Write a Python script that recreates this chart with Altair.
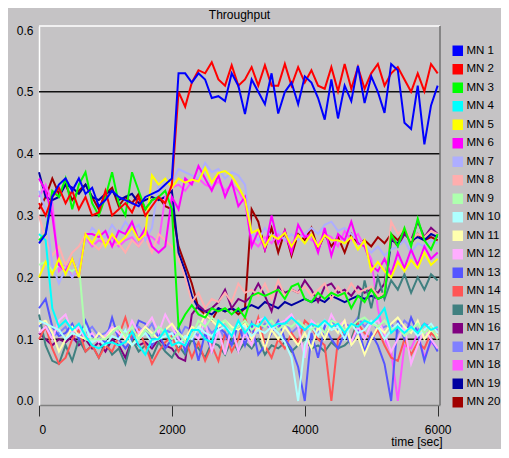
import altair as alt
import pandas as pd

times = list(range(0, 6001, 100))
names = [f"MN {i}" for i in range(1, 21)]
colors = ["#0000ff", "#ff0000", "#00ff00", "#00ffff", "#ffff00", "#ff00ff",
          "#aeaeff", "#ffaeae", "#aeffae", "#aeffff", "#ffffae", "#ffaeff",
          "#5555ff", "#ff5555", "#408080", "#800080", "#8080ff", "#ff55ff",
          "#0000a0", "#a00000"]

mn1 = [0.255, 0.27, 0.33, 0.35, 0.36, 0.34, 0.36, 0.335, 0.345, 0.315,
       0.325, 0.34, 0.33, 0.325, 0.32, 0.315, 0.33, 0.335, 0.34, 0.35,
       0.36, 0.53, 0.53, 0.515, 0.53, 0.52, 0.49, 0.493, 0.485, 0.53,
       0.51, 0.464, 0.52, 0.50, 0.48, 0.53, 0.465, 0.50, 0.515, 0.48,
       0.525, 0.515, 0.49, 0.455, 0.52, 0.457, 0.51, 0.485, 0.542, 0.482,
       0.525, 0.50, 0.466, 0.545, 0.535, 0.45, 0.44, 0.51, 0.415, 0.478,
       0.51]
mn2 = [0.32, 0.30, 0.33, 0.345, 0.32, 0.34, 0.31, 0.33, 0.30, 0.305,
       0.34, 0.30, 0.31, 0.32, 0.305, 0.33, 0.30, 0.315, 0.33, 0.32,
       0.35, 0.50, 0.476, 0.515, 0.535, 0.53, 0.548, 0.52, 0.51, 0.543,
       0.51, 0.52, 0.54, 0.51, 0.543, 0.51, 0.51, 0.545, 0.51, 0.54,
       0.515, 0.535, 0.51, 0.505, 0.54, 0.501, 0.545, 0.505, 0.54, 0.505,
       0.53, 0.545, 0.51, 0.53, 0.54, 0.52, 0.50, 0.53, 0.501, 0.545,
       0.53]
mn3 = [0.26, 0.27, 0.34, 0.33, 0.36, 0.31, 0.35, 0.37, 0.32, 0.30,
       0.33, 0.37, 0.32, 0.30, 0.37, 0.34, 0.31, 0.325, 0.33, 0.34,
       0.31, 0.12, 0.14, 0.155, 0.14, 0.135, 0.15, 0.145, 0.15, 0.14,
       0.15, 0.135, 0.17, 0.175, 0.17, 0.175, 0.18, 0.165, 0.185, 0.19,
       0.165, 0.16, 0.175, 0.165, 0.175, 0.17, 0.175, 0.15, 0.17, 0.16,
       0.18, 0.165, 0.17, 0.27, 0.25, 0.28, 0.25, 0.295, 0.26, 0.245,
       0.27]
mn4 = [0.27, 0.26, 0.15, 0.12, 0.13, 0.115, 0.125, 0.105, 0.09, 0.085,
       0.093, 0.095, 0.09, 0.095, 0.112, 0.09, 0.075, 0.10, 0.10, 0.115,
       0.09, 0.095, 0.09, 0.115, 0.115, 0.10, 0.095, 0.13, 0.12, 0.105,
       0.13, 0.11, 0.125, 0.12, 0.135, 0.12, 0.125, 0.125, 0.135, 0.125,
       0.115, 0.125, 0.12, 0.13, 0.12, 0.125, 0.11, 0.125, 0.12, 0.13,
       0.125, 0.135, 0.15, 0.11, 0.12, 0.11, 0.12, 0.11, 0.125, 0.115,
       0.12]
mn5 = [0.20, 0.225, 0.205, 0.23, 0.205, 0.23, 0.20, 0.27, 0.255, 0.275,
       0.25, 0.27, 0.255, 0.265, 0.28, 0.26, 0.27, 0.365, 0.35, 0.36,
       0.345, 0.36, 0.353, 0.358, 0.355, 0.377, 0.353, 0.369, 0.372, 0.364,
       0.347, 0.326, 0.272, 0.277, 0.25, 0.268, 0.262, 0.272, 0.25, 0.268,
       0.255, 0.27, 0.25, 0.268, 0.26, 0.26, 0.255, 0.265, 0.245, 0.26,
       0.21, 0.225, 0.21, 0.20, 0.225, 0.21, 0.228, 0.215, 0.24, 0.22,
       0.23]
mn6 = [0.36, 0.34, 0.30, 0.22, 0.21, 0.23, 0.20, 0.27, 0.27, 0.265,
       0.275, 0.25, 0.275, 0.27, 0.29, 0.26, 0.28, 0.25, 0.24, 0.25,
       0.33, 0.31, 0.36, 0.35, 0.38, 0.36, 0.34, 0.365, 0.33, 0.355,
       0.315, 0.33, 0.25, 0.275, 0.245, 0.30, 0.255, 0.275, 0.24, 0.285,
       0.265, 0.27, 0.24, 0.28, 0.235, 0.27, 0.26, 0.29, 0.255, 0.25,
       0.22, 0.21, 0.23, 0.205, 0.24, 0.215, 0.245, 0.22, 0.25, 0.23,
       0.24]
mn7 = [0.34, 0.31, 0.22, 0.19, 0.215, 0.20, 0.22, 0.26, 0.28, 0.27,
       0.265, 0.285, 0.27, 0.29, 0.275, 0.285, 0.26, 0.28, 0.35, 0.36,
       0.355, 0.375, 0.37, 0.365, 0.36, 0.385, 0.37, 0.375, 0.36, 0.37,
       0.365, 0.35, 0.27, 0.26, 0.28, 0.265, 0.275, 0.26, 0.27, 0.26,
       0.27, 0.28, 0.27, 0.285, 0.29, 0.275, 0.28, 0.27, 0.26, 0.25,
       0.24, 0.25, 0.235, 0.245, 0.25, 0.26, 0.24, 0.255, 0.25, 0.26,
       0.255]
mn8 = [0.30, 0.26, 0.235, 0.25, 0.22, 0.24, 0.25, 0.27, 0.255, 0.245,
       0.26, 0.25, 0.255, 0.24, 0.26, 0.25, 0.265, 0.24, 0.27, 0.26,
       0.25, 0.23, 0.20, 0.16, 0.175, 0.15, 0.165, 0.16, 0.175, 0.16,
       0.19, 0.175, 0.18, 0.17, 0.19, 0.165, 0.195, 0.17, 0.18, 0.175,
       0.185, 0.17, 0.18, 0.19, 0.165, 0.185, 0.17, 0.19, 0.175, 0.18,
       0.185, 0.17, 0.175, 0.29, 0.27, 0.28, 0.26, 0.27, 0.265, 0.275,
       0.27]
mn9 = [0.22, 0.225, 0.21, 0.22, 0.215, 0.21, 0.22, 0.10, 0.10, 0.10,
       0.10, 0.11, 0.12, 0.105, 0.12, 0.10, 0.115, 0.105, 0.12, 0.11,
       0.10, 0.11, 0.095, 0.105, 0.13, 0.12, 0.135, 0.125, 0.13, 0.115,
       0.12, 0.13, 0.115, 0.125, 0.12, 0.13, 0.115, 0.125, 0.12, 0.13,
       0.12, 0.115, 0.125, 0.11, 0.13, 0.125, 0.115, 0.12, 0.13, 0.135,
       0.125, 0.12, 0.13, 0.115, 0.12, 0.105, 0.115, 0.125, 0.11, 0.12,
       0.10]
mn10 = [0.13, 0.125, 0.12, 0.115, 0.10, 0.11, 0.105, 0.12, 0.095, 0.10,
        0.09, 0.105, 0.10, 0.115, 0.09, 0.10, 0.11, 0.095, 0.10, 0.105,
        0.11, 0.09, 0.105, 0.10, 0.12, 0.11, 0.105, 0.115, 0.12, 0.11,
        0.125, 0.12, 0.105, 0.115, 0.11, 0.12, 0.11, 0.095, 0.07, 0.0,
        0.09, 0.12, 0.105, 0.13, 0.115, 0.12, 0.10, 0.125, 0.11, 0.115,
        0.13, 0.12, 0.10, 0.115, 0.125, 0.11, 0.12, 0.105, 0.115, 0.125,
        0.11]
mn11 = [0.125, 0.13, 0.11, 0.08, 0.10, 0.12, 0.105, 0.10, 0.095, 0.11,
        0.10, 0.115, 0.12, 0.10, 0.09, 0.105, 0.12, 0.11, 0.10, 0.115,
        0.125, 0.11, 0.10, 0.12, 0.115, 0.14, 0.13, 0.12, 0.13, 0.12,
        0.115, 0.125, 0.10, 0.12, 0.085, 0.115, 0.10, 0.12, 0.105, 0.09,
        0.11, 0.085, 0.12, 0.10, 0.125, 0.11, 0.13, 0.09, 0.105, 0.075,
        0.10, 0.12, 0.11, 0.125, 0.135, 0.12, 0.11, 0.13, 0.10, 0.115,
        0.105]
mn12 = [0.11, 0.12, 0.10, 0.13, 0.14, 0.11, 0.12, 0.10, 0.11, 0.095,
        0.105, 0.12, 0.11, 0.10, 0.13, 0.11, 0.12, 0.135, 0.11, 0.14,
        0.12, 0.10, 0.09, 0.11, 0.10, 0.13, 0.08, 0.115, 0.075, 0.12,
        0.08, 0.11, 0.09, 0.13, 0.135, 0.115, 0.125, 0.13, 0.14, 0.12,
        0.07, 0.13, 0.12, 0.11, 0.14, 0.12, 0.13, 0.095, 0.12, 0.10,
        0.125, 0.13, 0.11, 0.08, 0.10, 0.12, 0.06, 0.09, 0.115, 0.10,
        0.085]
mn13 = [0.15, 0.165, 0.12, 0.105, 0.11, 0.125, 0.10, 0.13, 0.105, 0.10,
        0.095, 0.135, 0.10, 0.085, 0.10, 0.13, 0.125, 0.09, 0.11, 0.085,
        0.10, 0.12, 0.08, 0.11, 0.065, 0.11, 0.08, 0.12, 0.11, 0.09,
        0.125, 0.09, 0.125, 0.075, 0.09, 0.11, 0.13, 0.10, 0.085, 0.055,
        0.0, 0.11, 0.07, 0.12, 0.10, 0.085, 0.11, 0.09, 0.12, 0.08,
        0.11, 0.09, 0.06, 0.0, 0.13, 0.10, 0.135, 0.11, 0.065, 0.10,
        0.08]
mn14 = [0.10, 0.12, 0.085, 0.06, 0.07, 0.10, 0.115, 0.08, 0.09, 0.07,
        0.09, 0.08, 0.105, 0.135, 0.10, 0.115, 0.09, 0.06, 0.08, 0.095,
        0.105, 0.08, 0.10, 0.07, 0.095, 0.065, 0.09, 0.065, 0.11, 0.08,
        0.10, 0.135, 0.10, 0.135, 0.09, 0.07, 0.10, 0.085, 0.11, 0.095,
        0.13, 0.12, 0.10, 0.09, 0.0, 0.10, 0.115, 0.095, 0.125, 0.11,
        0.10, 0.115, 0.09, 0.07, 0.065, 0.10, 0.075, 0.095, 0.085, 0.11,
        0.10]
mn15 = [0.14, 0.09, 0.065, 0.06, 0.09, 0.065, 0.10, 0.08, 0.09, 0.07,
        0.095, 0.075, 0.085, 0.06, 0.10, 0.08, 0.09, 0.07, 0.095, 0.08,
        0.07, 0.09, 0.075, 0.10, 0.085, 0.07, 0.095, 0.09, 0.075, 0.10,
        0.08, 0.095, 0.085, 0.10, 0.075, 0.09, 0.085, 0.095, 0.08, 0.09,
        0.10, 0.085, 0.09, 0.08, 0.095, 0.085, 0.09, 0.10, 0.13, 0.195,
        0.15, 0.20, 0.165, 0.195, 0.18, 0.205, 0.175, 0.20, 0.18, 0.205,
        0.195]
mn16 = [0.11, 0.10, 0.09, 0.10, 0.095, 0.105, 0.09, 0.10, 0.085, 0.095,
        0.08, 0.10, 0.09, 0.07, 0.10, 0.09, 0.095, 0.085, 0.10, 0.09,
        0.085, 0.07, 0.065, 0.14, 0.155, 0.145, 0.15, 0.16, 0.18, 0.15,
        0.165, 0.16, 0.17, 0.19, 0.17, 0.145, 0.185, 0.175, 0.18, 0.175,
        0.195, 0.18, 0.16, 0.185, 0.19, 0.175, 0.18, 0.17, 0.185, 0.175,
        0.18, 0.175, 0.19, 0.265, 0.25, 0.27, 0.26, 0.29, 0.265, 0.28,
        0.27]
mn17 = [0.12, 0.13, 0.105, 0.11, 0.12, 0.10, 0.095, 0.11, 0.12, 0.105,
        0.11, 0.12, 0.105, 0.115, 0.10, 0.12, 0.11, 0.125, 0.10, 0.115,
        0.11, 0.10, 0.12, 0.115, 0.105, 0.125, 0.11, 0.12, 0.10, 0.115,
        0.12, 0.105, 0.115, 0.11, 0.125, 0.115, 0.12, 0.13, 0.11, 0.12,
        0.115, 0.125, 0.11, 0.12, 0.13, 0.115, 0.125, 0.12, 0.135, 0.12,
        0.13, 0.115, 0.12, 0.125, 0.11, 0.13, 0.12, 0.115, 0.125, 0.12,
        0.115]
mn18 = [0.33, 0.35, 0.32, 0.21, 0.22, 0.20, 0.215, 0.265, 0.25, 0.26,
        0.255, 0.265, 0.25, 0.26, 0.265, 0.25, 0.27, 0.265, 0.255, 0.33,
        0.345, 0.35, 0.34, 0.355, 0.36, 0.35, 0.345, 0.355, 0.34, 0.35,
        0.34, 0.32, 0.26, 0.25, 0.265, 0.255, 0.27, 0.26, 0.255, 0.265,
        0.27, 0.26, 0.255, 0.27, 0.265, 0.25, 0.275, 0.26, 0.27, 0.25,
        0.23, 0.15, 0.10, 0.08, 0.0, 0.09, 0.085, 0.11, 0.07, 0.095,
        0.085]
mn19 = [0.37, 0.33, 0.325, 0.33, 0.35, 0.345, 0.335, 0.35, 0.33, 0.325,
        0.335, 0.34, 0.325, 0.33, 0.335, 0.32, 0.325, 0.33, 0.325, 0.33,
        0.34, 0.24, 0.21, 0.17, 0.15, 0.145, 0.14, 0.15, 0.145, 0.15,
        0.145, 0.15, 0.155, 0.15, 0.16, 0.155, 0.15, 0.16, 0.155, 0.16,
        0.165, 0.16, 0.165, 0.16, 0.17, 0.165, 0.16, 0.165, 0.17, 0.165,
        0.17, 0.165, 0.17, 0.26, 0.255, 0.27, 0.26, 0.265, 0.26, 0.27,
        0.265]
mn20 = [0.31, 0.33, 0.36, 0.335, 0.35, 0.325, 0.34, 0.35, 0.33, 0.31,
        0.335, 0.345, 0.315, 0.33, 0.32, 0.335, 0.31, 0.325, 0.33, 0.315,
        0.31, 0.25, 0.22, 0.19, 0.15, 0.14, 0.13, 0.15, 0.145, 0.15,
        0.14, 0.15, 0.31, 0.29, 0.245, 0.28, 0.24, 0.275, 0.235, 0.27,
        0.26, 0.28, 0.245, 0.27, 0.25, 0.265, 0.24, 0.27, 0.255, 0.26,
        0.25, 0.265, 0.255, 0.27, 0.26, 0.275, 0.255, 0.27, 0.26, 0.265,
        0.26]

series = [mn1, mn2, mn3, mn4, mn5, mn6, mn7, mn8, mn9, mn10,
          mn11, mn12, mn13, mn14, mn15, mn16, mn17, mn18, mn19, mn20]
grid_values = [0.1, 0.2, 0.3, 0.4, 0.5]
y_ticks = [0.0, 0.1, 0.2, 0.3, 0.4, 0.5, 0.6]
x_ticks = [0, 2000, 4000, 6000]
title_text = "Throughput"

rows = []
# draw MN 20 first so MN 1 ends on top
for name, vals in reversed(list(zip(names, series))):
    for t, v in zip(times, vals):
        rows.append({"series": name, "t": t, "v": v})
df = pd.DataFrame(rows)
df_first = df[df["t"] == 0]

FONT = "Liberation Sans"
FS = 12
W, H = 401, 379
xscale = alt.Scale(domain=[0, 6035], nice=False, zero=False)
yscale = alt.Scale(domain=[-0.0065, 0.6065], nice=False, zero=False)
cscale = alt.Scale(domain=names, range=colors)

x_axis = alt.Axis(values=x_ticks, format="d", grid=False,
                  domainColor="#808080", domainWidth=1.5,
                  tickColor="#303030", tickSize=11, tickWidth=1,
                  labelPadding=8, labelFont=FONT, labelFontSize=FS,
                  labelColor="black", title="time [sec]",
                  titleFont=FONT, titleFontSize=FS,
                  titleFontWeight="normal", titleColor="black",
                  titleAnchor="end", titleAlign="right",
                  titleX=403, titleY=40, titleBaseline="alphabetic")
y_axis = alt.Axis(values=y_ticks, format=".1f", ticks=False, grid=False,
                  domainColor="white", domainWidth=1.5, labelPadding=6,
                  labelFont=FONT, labelFontSize=FS, labelColor="black",
                  title=None)

x_enc = alt.X("t:Q", scale=xscale, axis=x_axis)
y_enc = alt.Y("v:Q", scale=yscale, axis=y_axis)

# invisible squares only used to give the legend filled square swatches
legend_src = alt.Chart(df_first).mark_square(size=0).encode(
    x=x_enc, y=y_enc,
    color=alt.Color("series:N", scale=cscale,
                    legend=alt.Legend(title=None, orient="none",
                                      legendX=413, legendY=19,
                                      symbolType="square", symbolSize=110,
                                      symbolStrokeWidth=0, symbolOpacity=1,
                                      labelFont=FONT, labelFontSize=11.5,
                                      labelColor="black", labelOffset=3,
                                      labelLimit=60,
                                      rowPadding=5.5, padding=0)),
)

grid = alt.Chart(pd.DataFrame({"g": grid_values})).mark_rule(
    color="#101010", strokeWidth=1.5
).encode(y=alt.Y("g:Q", scale=yscale, axis=y_axis))

lines = alt.Chart(df).mark_line(strokeWidth=2, strokeJoin="miter").encode(
    x=x_enc, y=y_enc,
    color=alt.Color("series:N", scale=cscale, legend=None),
    detail="series:N",
)

one = alt.Data(values=[{}])
top_line = alt.Chart(one).mark_rule(color="white", strokeWidth=1.5).encode(
    x=alt.value(0), x2=alt.value(W), y=alt.value(0))
right_line = alt.Chart(one).mark_rule(color="#707070", strokeWidth=1.5).encode(
    x=alt.value(W), y=alt.value(0), y2=alt.value(H))
title_mark = alt.Chart(one).mark_text(
    text=title_text, font=FONT, fontSize=FS, color="black",
    align="center", baseline="alphabetic"
).encode(x=alt.value(W / 2), y=alt.value(-7))

chart = alt.layer(legend_src, grid, lines, top_line, right_line,
                  title_mark).properties(
    width=W, height=H,
    autosize=alt.AutoSizeParams(type="none"),
    padding={"left": 31, "top": 18, "right": 61, "bottom": 44},
    background="#c5c3c5",
).configure_view(stroke=None)

chart.save("out.html", embed_options={"renderer": "svg", "actions": False})
